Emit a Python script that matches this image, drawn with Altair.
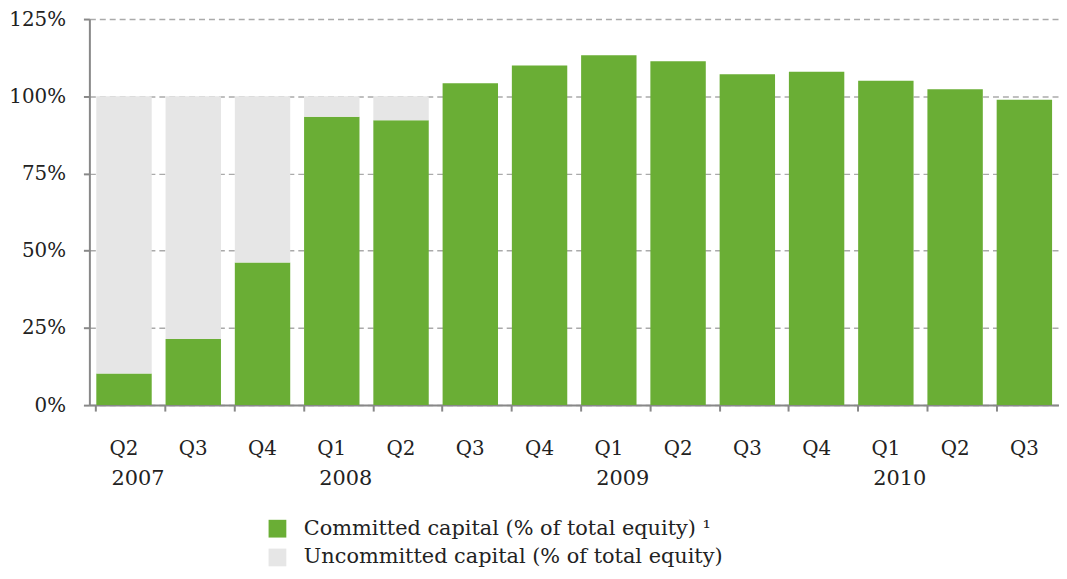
import altair as alt
import pandas as pd

quarters = ["2007 Q2", "2007 Q3", "2007 Q4", "2008 Q1", "2008 Q2", "2008 Q3", "2008 Q4",
            "2009 Q1", "2009 Q2", "2009 Q3", "2009 Q4", "2010 Q1", "2010 Q2", "2010 Q3"]
committed = [10.2, 21.4, 46.2, 93.4, 92.2, 104.2, 110.0, 113.3, 111.3, 107.1, 107.9, 105.0, 102.3, 98.9]
uncommitted = [89.8, 78.6, 53.8, 6.6, 7.8, 0, 0, 0, 0, 0, 0, 0, 0, 0]
year_labels = ["2007", "2008", "2009", "2010"]
year_first_quarter = ["2007 Q2", "2008 Q1", "2009 Q1", "2010 Q1"]
y_ticks = [0, 25, 50, 75, 100, 125]

S1 = "Committed capital (% of total equity) \u00b9"
S2 = "Uncommitted capital (% of total equity)"

rows = []
for q, c, u in zip(quarters, committed, uncommitted):
    rows.append({"q": q, "series": S1, "value": c, "ord": 0})
    rows.append({"q": q, "series": S2, "value": u, "ord": 1})
df = pd.DataFrame(rows)
ydf = pd.DataFrame({"q": year_first_quarter, "year": year_labels})

FONT = "DejaVu Serif"
W, H = 977, 389

xscale = alt.Scale(domain=quarters, paddingInner=0.2, paddingOuter=0.1)

bars = alt.Chart(df).mark_bar().encode(
    x=alt.X("q:N", scale=xscale, sort=quarters, title=None,
            axis=alt.Axis(labelExpr="split(datum.label, ' ')[1]", labelAngle=0,
                          bandPosition=0, tickSize=6, labelPadding=28,
                          labelFontSize=20, labelFont=FONT, labelColor="#222",
                          domainColor="#888", tickColor="#888", domainWidth=2, tickWidth=2,
                          grid=False)),
    y=alt.Y("value:Q", stack="zero", scale=alt.Scale(domain=[0, 125], nice=False),
            title=None,
            axis=alt.Axis(values=y_ticks, labelExpr="datum.value + '%'", tickSize=6,
                          labelPadding=18, labelFontSize=20, labelFont=FONT,
                          labelColor="#222", domainColor="#888", tickColor="#888",
                          domainWidth=2, tickWidth=2,
                          grid=True, gridDash=[6, 4], gridColor="#aaa", gridWidth=1.5)),
    color=alt.Color("series:N", sort=[S1, S2],
                    scale=alt.Scale(domain=[S1, S2], range=["#6aae35", "#e6e6e6"]),
                    legend=alt.Legend(title=None, orient="none", legendX=179, legendY=503,
                                      symbolType="square", symbolSize=320,
                                      symbolStrokeWidth=0, labelFont=FONT, labelFontSize=21,
                                      labelColor="#222", rowPadding=7, labelOffset=16,
                                      labelLimit=0)),
    order=alt.Order("ord:Q"),
)

years = alt.Chart(ydf).mark_text(font=FONT, fontSize=21, color="#222", dx=14).encode(
    x=alt.X("q:N", scale=xscale, sort=quarters),
    y=alt.value(H + 74),
    text="year:N",
)

chart = alt.layer(bars, years).properties(
    width=W, height=H,
    autosize=alt.AutoSizeParams(type="none"),
    padding={"left": 82, "top": 9, "right": 0, "bottom": 165},
).configure_view(stroke=None).configure_axis(labelFont=FONT)

chart.save("out.html", embed_options={"renderer": "svg", "actions": False})
